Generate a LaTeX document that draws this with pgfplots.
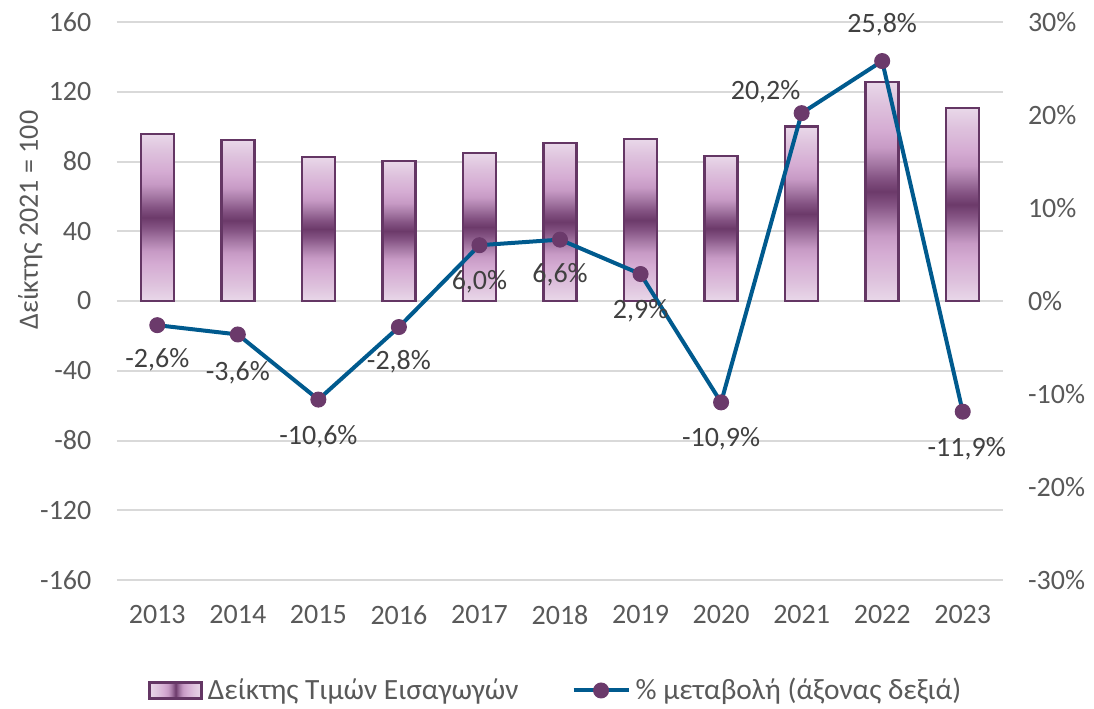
\documentclass[border=0pt]{standalone}
\usepackage{pgfplots}
\pgfplotsset{compat=1.18}
\usepackage{pgfplotstable}
\usepackage{fontspec}
\setmainfont{Carlito}

\definecolor{barborder}{HTML}{643664}
\definecolor{linecol}{HTML}{005A8E}
\definecolor{markcol}{HTML}{6B3A6B}
\definecolor{gridcol}{HTML}{D9D9D9}
\definecolor{ticktext}{HTML}{595959}
\definecolor{labtext}{HTML}{404040}
% bar gradient, from the ends (s1) to the middle (s7)
\definecolor{s1}{HTML}{E9D8E9}
\definecolor{s2}{HTML}{DEC2DD}
\definecolor{s3}{HTML}{D5ACD3}
\definecolor{s4}{HTML}{C79AC5}
\definecolor{s5}{HTML}{A679A5}
\definecolor{s6}{HTML}{845383}
\definecolor{s7}{HTML}{6C3A6A}

% the band 25bp..75bp is stretched over the bar
\pgfdeclareverticalshading{barshade}{100bp}{%
  color(0bp)=(s1); color(25bp)=(s1); color(30bp)=(s2); color(36bp)=(s3);
  color(40bp)=(s4); color(43.5bp)=(s5); color(47bp)=(s6); color(50bp)=(s7);
  color(53bp)=(s6); color(56.5bp)=(s5); color(60bp)=(s4); color(64bp)=(s3);
  color(70bp)=(s2); color(75bp)=(s1); color(100bp)=(s1)}
\pgfdeclarehorizontalshading{barshadeh}{100bp}{%
  color(0bp)=(s1); color(25bp)=(s1); color(33bp)=(s2); color(39bp)=(s3);
  color(43bp)=(s4); color(46bp)=(s5); color(48.5bp)=(s6); color(50bp)=(s7);
  color(51.5bp)=(s6); color(54bp)=(s5); color(57bp)=(s4); color(61bp)=(s3);
  color(67bp)=(s2); color(75bp)=(s1); color(100bp)=(s1)}

\pgfplotstableread{
x pct lab dx dy
0 -2.6 -2,6 0 -17.5
1 -3.6 -3,6 0 -19
2 -10.6 -10,6 0 -18.5
3 -2.8 -2,8 0 -17.5
4 6.0 6,0 0 -18.5
5 6.6 6,6 0 -17.5
6 2.9 2,9 0 -18.5
7 -10.9 -10,9 0 -18
8 20.2 20,2 -18 10.5
9 25.8 25,8 0 18
10 -11.9 -11,9 2 -18.5
}\linedata

\newcommand\chartfont{\fontsize{14bp}{16bp}\selectfont}

\pgfplotsset{
  base/.style={
    scale only axis, width=443bp, height=279bp,
    xmin=-0.5, xmax=10.5,
    axis line style={draw=none}, tick style={draw=none},
    ticklabel style={font=\chartfont, text=ticktext},
    /pgf/number format/assume math mode=true,
  },
  % one plot per bar, so that each bar gets its own shading
  onebar/.style={ybar, bar width=16.5bp, bar shift=0pt, forget plot,
    draw=barborder, line width=1.25bp, shade, shading=barshade},
  barlegend/.style={legend image code/.code={\path[##1] (0bp,-4bp) rectangle (26bp,4bp);}},
  linelegend/.style={legend image code/.code={\draw[mark repeat=2, mark phase=2, ##1] plot coordinates {(0bp,0bp) (13.75bp,0bp) (27.5bp,0bp)};}},
}

\begin{document}
\begin{tikzpicture}
\useasboundingbox (-58.5bp,-64.5bp) rectangle (488.5bp,290bp);

\begin{axis}[base,
  axis x line*=bottom, axis y line*=left,
  ymin=-160, ymax=160, ytick distance=40,
  xtick={0,...,10}, xticklabels={2013,2014,2015,2016,2017,2018,2019,2020,2021,2022,2023},
  xticklabel style={yshift=-9.3bp},
  yticklabel style={xshift=-9.3bp},
  ymajorgrids, grid style={gridcol, line width=1bp},
  ylabel={Δείκτης 2021 = 100},
  ylabel style={font=\chartfont, text=ticktext, at={(axis description cs:-0.098,0.645)}, anchor=center},
]
\addplot[onebar] coordinates {(0,95.8)};
\addplot[onebar] coordinates {(1,92.3)};
\addplot[onebar] coordinates {(2,82.6)};
\addplot[onebar] coordinates {(3,80.3)};
\addplot[onebar] coordinates {(4,84.9)};
\addplot[onebar] coordinates {(5,90.6)};
\addplot[onebar] coordinates {(6,92.9)};
\addplot[onebar] coordinates {(7,83.2)};
\addplot[onebar] coordinates {(8,100.0)};
\addplot[onebar] coordinates {(9,125.6)};
\addplot[onebar] coordinates {(10,110.7)};
\end{axis}

\begin{axis}[base,
  axis x line=none, axis y line*=right,
  ymin=-30, ymax=30, ytick distance=10,
  yticklabel={\pgfmathprintnumber{\tick}\%},
  yticklabel style={xshift=9bp},
  legend columns=2,
  legend style={draw=none, fill=none, font=\fontsize{14.7bp}{17bp}\selectfont, text=ticktext,
    at={(0.497,-0.198)}, anchor=center, inner sep=0pt,
    /tikz/every odd column/.append style={column sep=0bp},
    /tikz/every even column/.append style={column sep=24bp},
    nodes={inner sep=2.5bp}},
]
\addlegendimage{barlegend, draw=barborder, line width=1.25bp, shade, shading=barshadeh}
\addlegendentry{Δείκτης Τιμών Εισαγωγών}

\addplot[linelegend, color=linecol, line width=2bp, mark=*, mark size=3.75bp,
  mark options={fill=markcol, draw=markcol, line width=0.5bp},
  point meta=explicit symbolic,
  visualization depends on={\thisrow{dx} \as \dx},
  visualization depends on={\thisrow{dy} \as \dy},
  nodes near coords={\pgfplotspointmeta\%},
  every node near coord/.append style={font=\chartfont, text=labtext, anchor=center,
    xshift=\dx bp, yshift=\dy bp},
] table[x=x, y=pct, meta=lab] {\linedata};
\addlegendentry{\% μεταβολή (άξονας δεξιά)}

\draw[gray!70, line width=0.75bp] (axis cs:9,25.8) ++(0,2bp) -- ++(0,6.5bp);
\end{axis}
\end{tikzpicture}
\end{document}
